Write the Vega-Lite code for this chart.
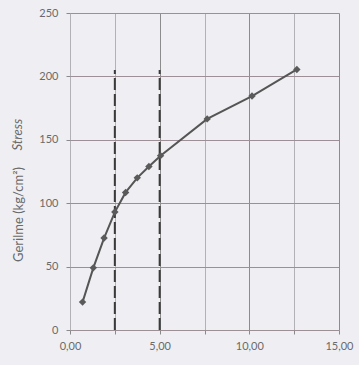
{
  "$schema": "https://vega.github.io/schema/vega-lite/v6.json",
  "autosize": "none",
  "width": 269,
  "height": 317,
  "padding": {"left": 70, "top": 13, "right": 20, "bottom": 35},
  "background": "#efeff3",
  "config": {
    "font": "Lato",
    "view": {"stroke": null},
    "axis": {
      "labelColor": "#6a6a6a",
      "labelFontSize": 11,
      "labelFont": "Lato",
      "titleFont": "Lato",
      "domain": false,
      "tickColor": "#8a8a8a",
      "tickSize": 4,
      "grid": true
    }
  },
  "datasets": {
    "curve": [
      {"strain": 0.7, "stress": 22},
      {"strain": 1.3, "stress": 49},
      {"strain": 1.9, "stress": 72.5},
      {"strain": 2.5, "stress": 93},
      {"strain": 3.1, "stress": 108.5},
      {"strain": 3.75, "stress": 120},
      {"strain": 4.4, "stress": 129},
      {"strain": 5.05, "stress": 137.5},
      {"strain": 7.65, "stress": 166.5},
      {"strain": 10.15, "stress": 184.5},
      {"strain": 12.65, "stress": 205.5}
    ],
    "limits": [
      {"strain": 2.5, "stress": 0, "high": 205},
      {"strain": 5.0, "stress": 0, "high": 205}
    ],
    "note": [
      {"strain": -2.9, "stress": 154, "label": "Stress"}
    ]
  },
  "encoding": {
    "x": {
      "field": "strain",
      "type": "quantitative",
      "scale": {"domain": [0, 15], "nice": false, "zero": false},
      "axis": {
        "title": null,
        "values": [0, 2.5, 5, 7.5, 10, 12.5, 15],
        "labelExpr": "datum.value % 5 === 0 ? replace(format(datum.value, '.2f'), '.', ',') : ''",
        "labelFlush": false,
        "grid": true,
        "gridColor": {"condition": {"test": "datum.value % 5 === 0 && datum.value > 0", "value": "#8c8c8c"}, "value": "#b2b2b6"},
        "labelPadding": 6
      }
    },
    "y": {
      "field": "stress",
      "type": "quantitative",
      "scale": {"domain": [0, 250], "nice": false},
      "axis": {
        "values": [0, 50, 100, 150, 200, 250],
        "grid": true,
        "gridColor": "#9c8f95",
        "labelPadding": 8,
        "title": "Gerilme (kg/cm²)",
        "titleFontSize": 13,
        "titleFontWeight": "normal",
        "titleColor": "#6a6a6a",
        "titleAngle": 270,
        "titleAlign": "center",
        "titleBaseline": "middle",
        "titleX": -52,
        "titleY": 201
      }
    }
  },
  "layer": [
    {
      "data": {"name": "limits"},
      "mark": {"type": "rule", "color": "#3a3a3a", "strokeWidth": 2, "strokeDash": [12, 4]},
      "encoding": {
        "y2": {"field": "high"}
      }
    },
    {
      "data": {"name": "curve"},
      "mark": {"type": "line", "color": "#555555", "strokeWidth": 2}
    },
    {
      "data": {"name": "curve"},
      "mark": {"type": "point", "shape": "diamond", "filled": true, "size": 55, "color": "#5a5a5a", "opacity": 1}
    },
    {
      "data": {"name": "note"},
      "mark": {"type": "text", "angle": 270, "fontStyle": "italic", "fontSize": 13, "color": "#6a6a6a", "align": "center", "baseline": "middle", "font": "Lato"},
      "encoding": {
        "text": {"field": "label"}
      }
    }
  ]
}
